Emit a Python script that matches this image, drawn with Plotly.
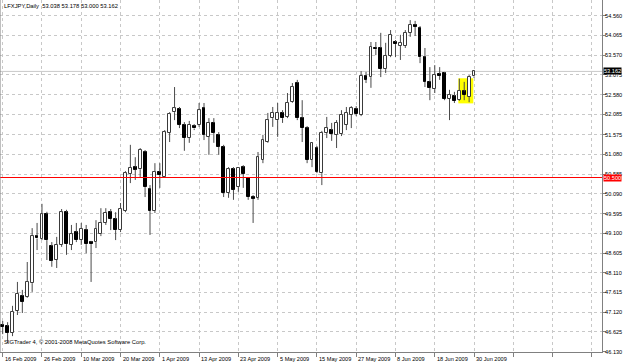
import plotly.graph_objects as go
import pandas as pd

# ---------------- data ----------------
dates = [d.strftime("%Y-%m-%d") for d in pd.bdate_range("2009-02-16", "2009-06-30")]

open_ = [46.80, 46.77, 46.60, 47.15, 47.53, 47.50, 47.85, 49.03, 48.96, 49.58,
         48.78, 48.43, 48.81, 49.63, 48.81, 49.13, 48.93, 49.18, 48.88, 48.88,
         49.08, 49.36, 49.63, 49.46, 49.18, 49.67, 50.59, 50.76, 50.71, 51.14,
         50.21, 49.66, 50.64, 50.51, 51.62, 52.14, 52.22, 51.82, 51.49, 51.79,
         51.82, 52.24, 51.52, 51.87, 51.57, 51.27, 50.11, 50.71, 50.26, 50.76,
         50.49, 50.02, 49.99, 50.94, 51.39, 51.99, 51.94, 52.12, 52.02, 52.39,
         52.87, 51.99, 51.74, 50.94, 51.24, 50.61, 51.62, 51.69, 51.57, 51.59,
         51.82, 52.07, 52.22, 52.07, 53.05, 53.02, 53.76, 53.75, 53.22, 53.55,
         53.90, 53.80, 53.80, 54.13, 54.33, 54.25, 53.52, 52.90, 52.72, 53.10,
         53.12, 52.47, 52.54, 52.44, 52.66, 52.52, 53.038]
high = [46.90, 46.87, 47.28, 47.88, 47.68, 48.38, 49.23, 49.36, 49.84, 49.64,
        48.88, 49.01, 49.71, 49.69, 49.31, 49.36, 49.36, 49.31, 48.91, 49.43,
        49.73, 49.73, 49.71, 49.63, 49.86, 50.66, 51.32, 51.01, 51.24, 51.19,
        50.31, 50.86, 50.86, 51.69, 52.14, 52.77, 52.27, 51.89, 51.92, 51.84,
        52.37, 52.37, 51.99, 51.99, 51.64, 51.32, 50.76, 50.76, 50.76, 50.81,
        50.51, 50.06, 51.14, 51.57, 52.12, 52.27, 52.37, 52.19, 52.62, 52.87,
        52.95, 52.44, 51.79, 51.39, 51.29, 51.67, 52.02, 51.87, 51.94, 52.19,
        52.27, 52.29, 52.29, 53.17, 53.15, 53.90, 53.90, 54.13, 53.88, 54.20,
        53.95, 54.08, 54.20, 54.45, 54.43, 54.30, 53.75, 53.27, 53.32, 53.27,
        53.15, 52.70, 52.65, 52.98, 52.90, 53.07, 53.178]
low = [46.57, 46.35, 46.52, 47.05, 47.10, 47.48, 47.63, 48.68, 48.93, 48.43,
       48.26, 48.23, 48.76, 48.56, 48.68, 48.88, 48.81, 48.60, 47.88, 48.73,
       49.03, 49.31, 49.18, 48.93, 49.13, 49.63, 50.36, 50.44, 50.51, 50.01,
       49.06, 49.61, 50.24, 50.49, 51.39, 51.94, 51.74, 51.17, 51.37, 51.69,
       51.77, 51.44, 51.07, 51.37, 51.07, 50.01, 49.99, 49.94, 50.14, 50.24,
       49.94, 49.36, 49.94, 50.86, 51.37, 51.77, 51.52, 51.87, 51.99, 52.37,
       51.94, 51.39, 50.86, 50.76, 50.61, 50.31, 51.49, 51.42, 51.24, 51.54,
       51.69, 51.74, 52.04, 52.04, 52.87, 52.75, 53.57, 53.02, 53.12, 53.52,
       53.52, 53.45, 53.75, 54.03, 54.05, 53.37, 52.77, 52.44, 52.62, 52.95,
       52.44, 51.94, 52.37, 52.42, 52.44, 52.39, 53.000]
close = [46.75, 46.60, 47.13, 47.58, 47.38, 47.88, 49.03, 48.97, 49.58, 48.93,
         48.41, 48.81, 49.63, 48.83, 49.08, 48.93, 49.21, 48.83, 48.83, 49.21,
         49.36, 49.61, 49.46, 49.18, 49.71, 50.61, 50.74, 50.70, 51.19, 50.26,
         49.66, 50.64, 50.56, 51.64, 52.09, 52.24, 51.82, 51.49, 51.82, 51.73,
         52.19, 51.57, 51.87, 51.62, 51.27, 50.11, 50.71, 50.19, 50.74, 50.59,
         50.01, 49.97, 51.01, 51.44, 51.94, 52.12, 52.12, 51.99, 52.37, 52.77,
         51.99, 51.74, 50.94, 51.37, 50.64, 51.62, 51.74, 51.59, 51.87, 52.07,
         52.12, 52.24, 52.09, 53.05, 52.95, 53.78, 53.72, 53.22, 53.55, 54.08,
         53.85, 53.88, 54.13, 54.33, 54.28, 53.52, 52.90, 52.75, 53.07, 53.05,
         52.47, 52.57, 52.42, 52.67, 52.57, 53.02, 53.162]

date_tick_dates = ["2009-02-16", "2009-02-26", "2009-03-10", "2009-03-20", "2009-04-01",
                   "2009-04-13", "2009-04-23", "2009-05-05", "2009-05-15", "2009-05-27",
                   "2009-06-08", "2009-06-18", "2009-06-30"]
date_tick_labels = ["16 Feb 2009", "26 Feb 2009", "10 Mar 2009", "20 Mar 2009", "1 Apr 2009",
                    "13 Apr 2009", "23 Apr 2009", "5 May 2009", "15 May 2009", "27 May 2009",
                    "8 Jun 2009", "18 Jun 2009", "30 Jun 2009"]
price_ticks = [46.130, 46.625, 47.120, 47.615, 48.110, 48.605, 49.100, 49.595, 50.090,
               50.585, 51.080, 51.575, 52.085, 52.580, 53.075, 53.570, 54.065, 54.560]
level_line = 50.500
last_price = 53.162
symbol_title = "LFXJPY,Daily"
copyright_text = "SIGTrader 4, © 2001-2008 MetaQuotes Software Corp."
highlight_bars = ["2009-06-25", "2009-06-29"]
highlight_prices = [52.36, 52.99]

# ---------------- figure ----------------
idx = list(range(len(dates)))
body_lo = [min(o, c) for o, c in zip(open_, close)]
body_hi = [max(o, c) for o, c in zip(open_, close)]
body_h = [max(h - l, 0.012) for h, l in zip(body_hi, body_lo)]
up = [c >= o for o, c in zip(open_, close)]

X_RANGE = [-0.55, 122.06]

wx, wy = [], []
for i in idx:
    wx += [i, i, None, i, i, None]
    wy += [high[i], body_hi[i], None, body_lo[i], low[i], None]

fig = go.Figure()
fig.add_trace(go.Scatter(x=wx, y=wy, mode="lines",
                         line=dict(color="#4a4a4a", width=1),
                         hoverinfo="skip", showlegend=False))
fig.add_trace(go.Bar(x=idx, y=body_h, base=body_lo, width=0.58,
                     marker=dict(color=["#ffffff" if u else "#000000" for u in up],
                                 line=dict(color=["#3a3a3a" if u else "#000000" for u in up],
                                           width=1)),
                     showlegend=False, hoverinfo="skip"))
fig.add_trace(go.Scatter(x=X_RANGE, y=[level_line, level_line], mode="lines",
                         line=dict(color="#ff0000", width=1),
                         hoverinfo="skip", showlegend=False))

tick_idx = [dates.index(d) for d in date_tick_dates]
grid_idx = tick_idx + [tick_idx[-1] + 8, tick_idx[-1] + 16, tick_idx[-1] + 24]

FONT = "Liberation Sans, Arial, sans-serif"
font_small = dict(family=FONT, size=5.6, color="#000000")

hx0 = dates.index(highlight_bars[0]) - 0.2
hx1 = dates.index(highlight_bars[1]) + 0.85
fig.add_shape(type="rect", xref="x", yref="y", x0=hx0, x1=hx1,
              y0=highlight_prices[0], y1=highlight_prices[1],
              fillcolor="#ffff00", line=dict(width=0), layer="between")
fig.add_shape(type="line", xref="paper", yref="y", x0=0, x1=1,
              y0=last_price, y1=last_price, line=dict(color="#c8c8c8", width=1), layer="between")
fig.add_shape(type="line", xref="paper", yref="paper", x0=0, x1=0, y0=0, y1=1,
              line=dict(color="#808080", width=1))

for ti, lab in zip(tick_idx, date_tick_labels):
    fig.add_annotation(x=ti, xref="x", y=0, yref="paper", yanchor="top", yshift=-1.5,
                       xanchor="left", xshift=0, text=lab, showarrow=False,
                       font=font_small)

fig.add_annotation(x=0, xref="paper", y=1, yref="paper", xanchor="left", yanchor="top",
                   xshift=2, yshift=-1,
                   text=symbol_title + "&nbsp; " + " ".join(
                       f"{v:.3f}" for v in (open_[-1], high[-1], low[-1], close[-1])),
                   showarrow=False, font=dict(family=FONT, size=5.8, color="#000000"))
fig.add_annotation(x=0, xref="paper", y=0, yref="paper", xanchor="left", yanchor="bottom",
                   xshift=2, yshift=5, text=copyright_text, showarrow=False,
                   font=dict(family=FONT, size=5.8, color="#000000"))

fig.add_annotation(x=1, xref="paper", y=last_price, yref="y", xanchor="left", xshift=1,
                   text=f"{last_price:.3f}", showarrow=False, bgcolor="#000000",
                   borderpad=0, font=dict(family=FONT, size=5.6, color="#ffffff"))
fig.add_annotation(x=1, xref="paper", y=level_line, yref="y", xanchor="left", xshift=1,
                   text=f"{level_line:.3f}", showarrow=False, bgcolor="#ff0000",
                   borderpad=0, font=dict(family=FONT, size=5.6, color="#ffffff"))

fig.update_layout(
    width=625, height=363,
    margin=dict(l=0, r=23, t=0, b=11),
    paper_bgcolor="#ffffff", plot_bgcolor="#ffffff",
    showlegend=False, bargap=0,
    xaxis=dict(range=X_RANGE, tickvals=grid_idx, showticklabels=False,
               ticks="outside", ticklen=4, tickcolor="#808080",
               showgrid=True, gridcolor="#c8c8c8", griddash="3px,3px", gridwidth=1,
               showline=True, linecolor="#808080", linewidth=1, zeroline=False),
    yaxis=dict(side="right", range=[46.122, 54.954], tickvals=price_ticks,
               ticktext=[f"{v:.3f}" for v in price_ticks],
               ticks="outside", ticklen=3, tickcolor="#808080", tickfont=font_small,
               ticklabelstandoff=-2,
               showgrid=True, gridcolor="#c8c8c8", griddash="3px,3px", gridwidth=1,
               showline=True, linecolor="#808080", linewidth=1, zeroline=False),
)

fig.write_html("out.html")
